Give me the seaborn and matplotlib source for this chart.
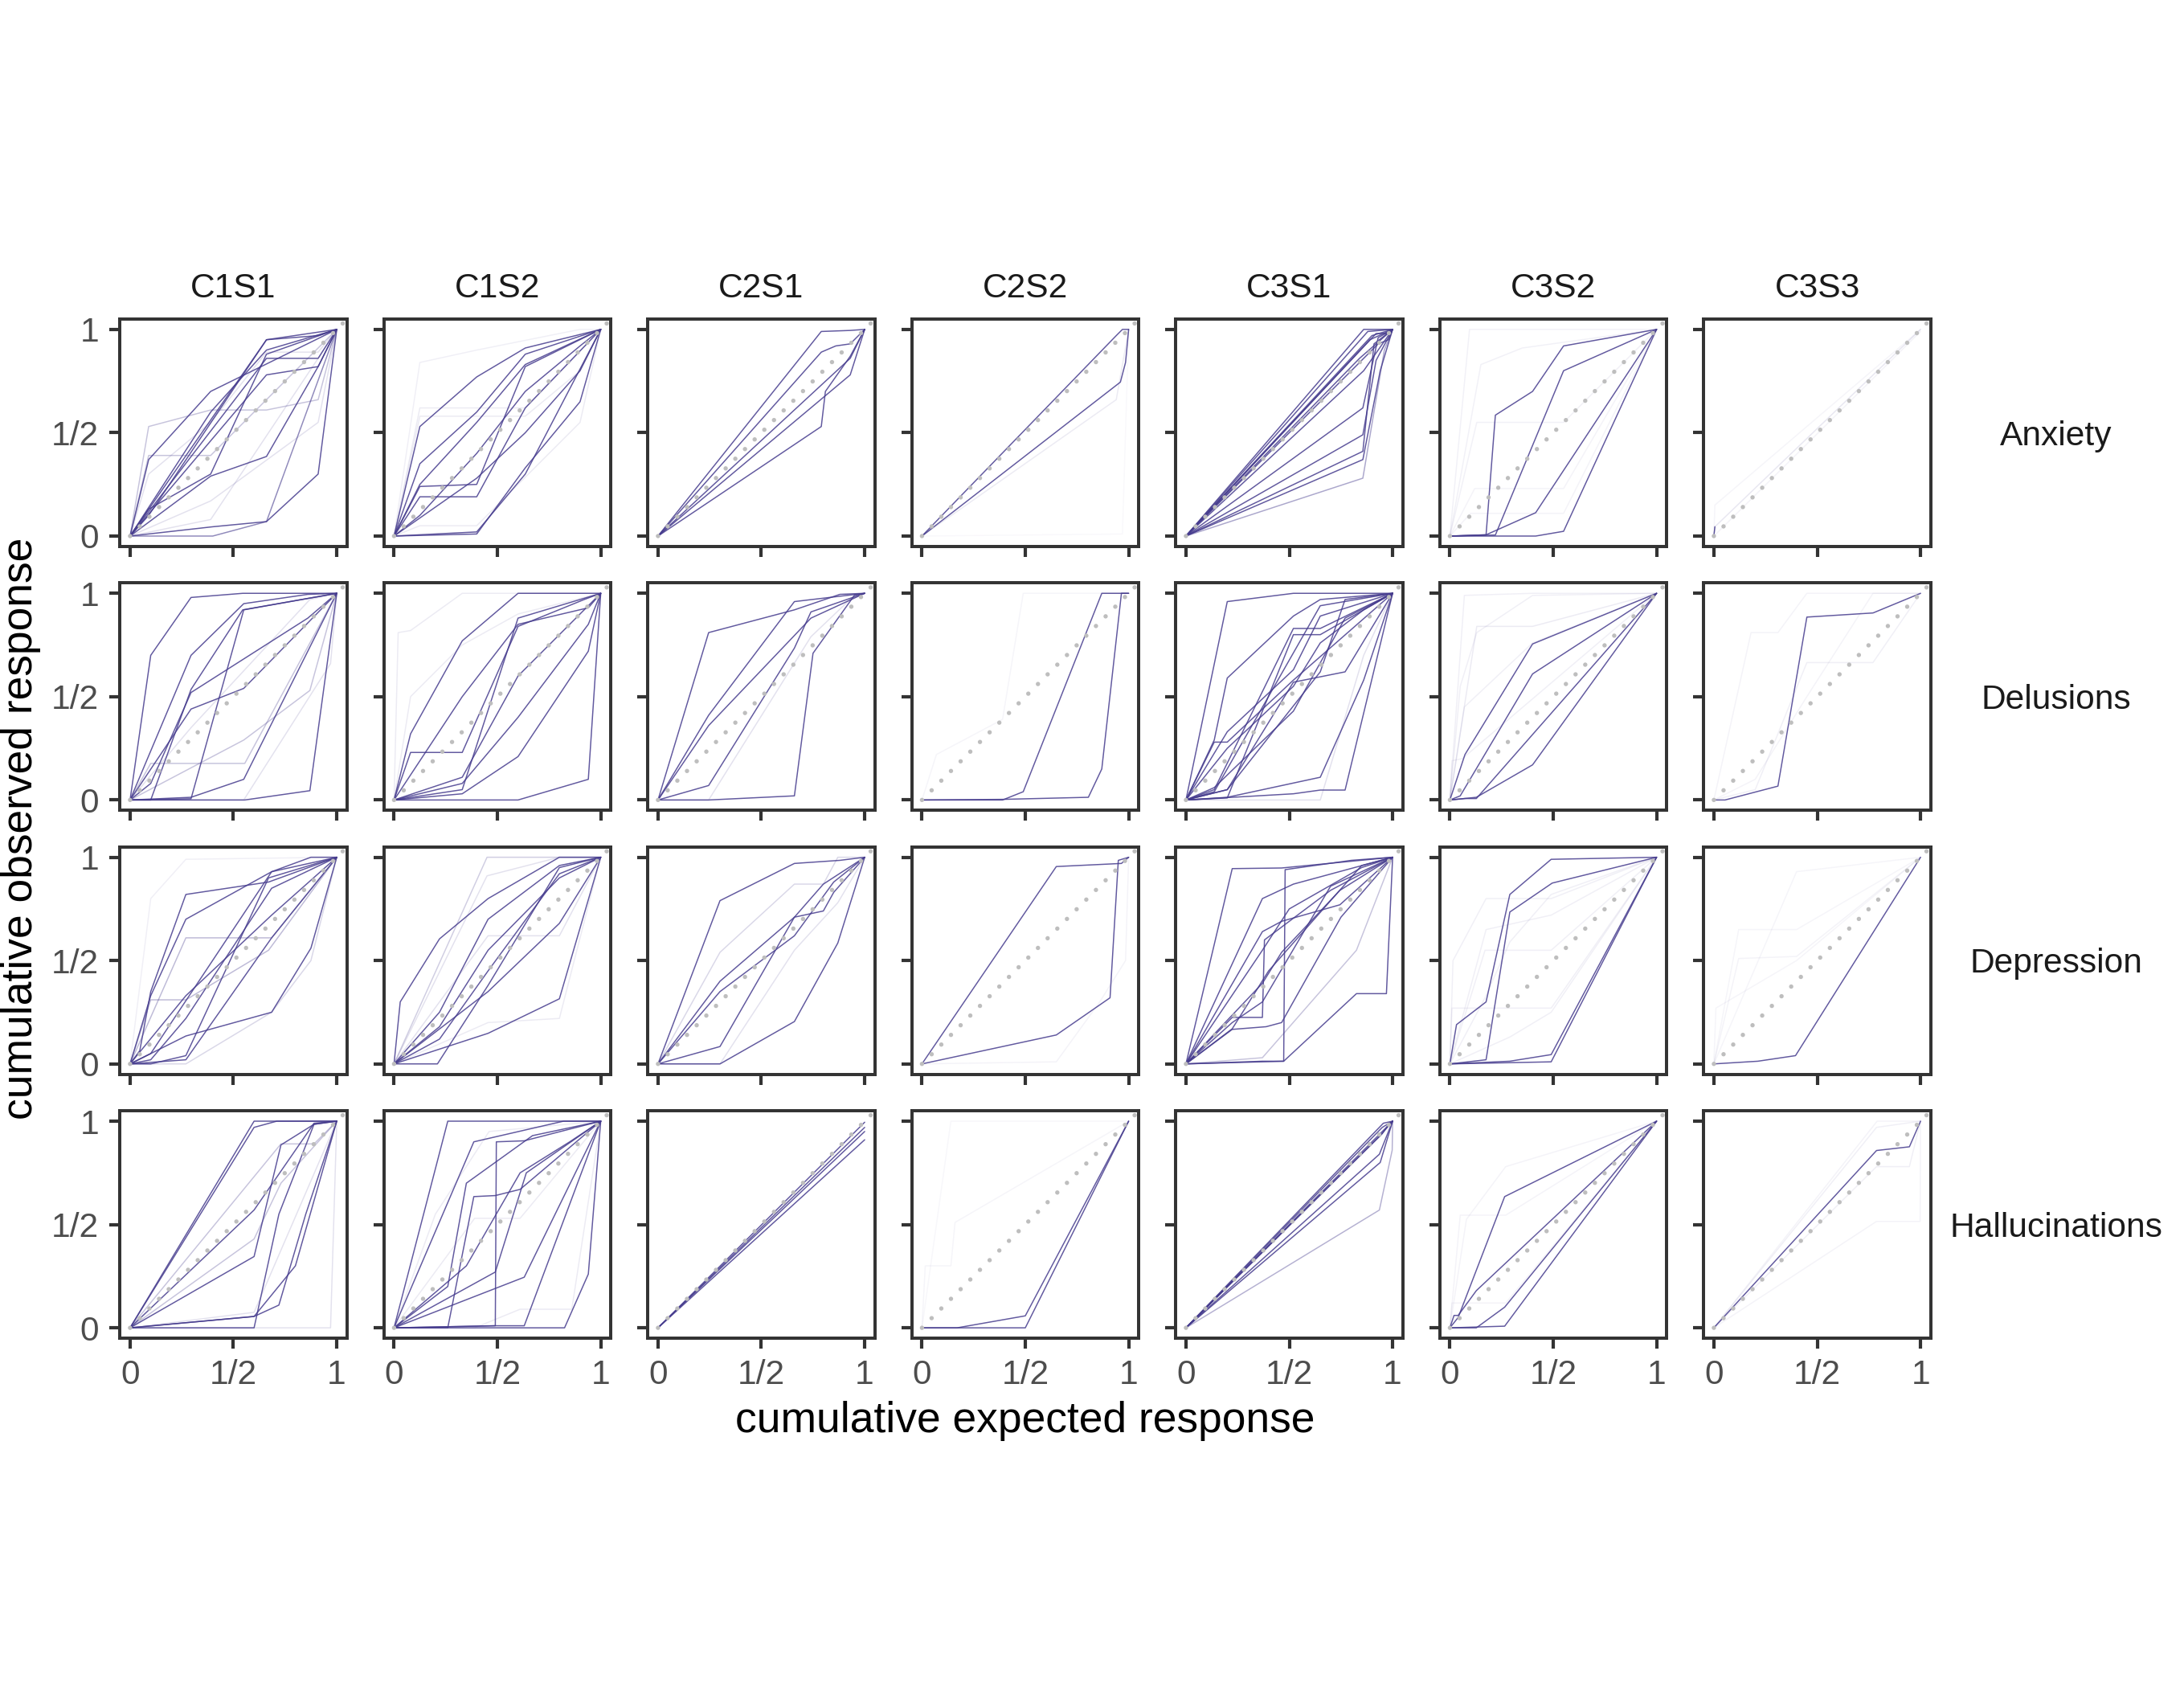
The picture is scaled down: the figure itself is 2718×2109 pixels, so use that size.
import numpy as np
import pandas as pd
import matplotlib
matplotlib.use("Agg")
import matplotlib.pyplot as plt
import seaborn as sns

# ---------------- data ----------------
symptoms = ["Anxiety", "Delusions", "Depression", "Hallucinations"]
clusters = ["C1S1", "C1S2", "C2S1", "C2S2", "C3S1", "C3S2", "C3S3"]
tick_values = [0, 0.5, 1]
tick_labels = ["0", "1/2", "1"]
x_title = "cumulative expected response"
y_title = "cumulative observed response"

# each curve: (cumulative expected, cumulative observed, weight)
anxiety_c1s1 = [
    ([0, 0.09, 0.39, 1], [0, 0.37, 0.70, 1], 0.85),
    ([0, 0.09, 0.66, 1], [0, 0.10, 0.95, 1], 0.85),
    ([0, 0.40, 0.66, 0.91, 1], [0, 0.045, 0.07, 0.30, 1], 0.85),
    ([0, 0.40, 0.66, 1], [0, 0.0, 0.07, 1], 0.6),
    ([0, 0.39, 0.66, 0.91, 1], [0, 0.29, 0.385, 0.82, 1], 0.85),
    ([0, 0.66, 0.91, 1], [0, 0.78, 0.82, 1], 0.85),
    ([0, 0.66, 0.91, 1], [0, 0.86, 0.86, 1], 0.85),
    ([0, 0.09, 0.39, 0.66, 0.91, 1], [0, 0.53, 0.61, 0.61, 0.66, 1], 0.3),
    ([0, 0.09, 0.39, 1], [0, 0.39, 0.39, 1], 0.3),
    ([0, 0.09, 0.39, 0.66, 0.91, 1], [0, 0.30, 0.55, 0.89, 0.89, 1], 0.15),
    ([0, 0.09, 0.39, 0.66, 1], [0, 0.13, 0.30, 0.88, 1], 0.85),
    ([0, 0.39, 0.91, 1], [0, 0.17, 0.55, 1], 0.15),
    ([0, 0.66, 0.91, 1], [0, 0.95, 0.97, 1], 0.85),
    ([0, 0.39, 0.66, 1], [0, 0.60, 0.90, 1], 0.85),
    ([0, 0.39, 0.91, 1], [0, 0.08, 0.86, 1], 0.15),
]
anxiety_c1s2 = [
    ([0, 0.125, 0.40, 0.635, 1], [0, 0.53, 0.77, 0.91, 1], 0.85),
    ([0, 0.125, 0.40, 0.635, 1], [0, 0.24, 0.25, 0.82, 1], 0.85),
    ([0, 0.125, 0.40, 0.635, 1], [0, 0.19, 0.19, 0.62, 1], 0.85),
    ([0, 0.40, 0.635, 1], [0, 0.02, 0.30, 1], 0.85),
    ([0, 0.40, 0.635, 0.90, 1], [0, 0.01, 0.33, 0.65, 1], 0.85),
    ([0, 0.125, 0.40, 0.635, 0.90, 1], [0, 0.10, 0.40, 0.70, 0.92, 1], 0.85),
    ([0, 0.125, 0.40, 0.635, 1], [0, 0.25, 0.55, 0.83, 1], 0.85),
    ([0, 0.125, 0.40, 0.90, 1], [0, 0.84, 0.90, 1, 1], 0.08),
    ([0, 0.125, 0.635, 1], [0, 0.62, 0.62, 1], 0.1),
    ([0, 0.125, 0.635, 0.90, 1], [0, 0.58, 0.58, 0.80, 1], 0.1),
    ([0, 0.125, 0.40, 0.90, 1], [0, 0.05, 0.05, 0.55, 1], 0.1),
    ([0, 0.40, 0.635, 0.90, 1], [0, 0.28, 0.50, 0.80, 1], 0.85),
    ([0, 0.125, 0.40, 0.635, 1], [0, 0.35, 0.60, 0.88, 1], 0.85),
]
anxiety_c2s1 = [
    ([0, 0.79, 0.93, 1], [0, 0.99, 0.995, 1], 0.85),
    ([0, 0.79, 0.81, 0.93, 1], [0, 0.53, 0.70, 0.87, 1], 0.85),
    ([0, 0.79, 0.86, 0.93, 1], [0, 0.89, 0.92, 0.93, 1], 0.85),
    ([0, 0.93, 1], [0, 0.78, 1], 0.85),
    ([0, 0.93, 1], [0, 0.86, 1], 0.85),
]
anxiety_c2s2 = [
    ([0, 0.94, 0.97, 1], [0, 0.97, 1, 1], 0.85),
    ([0, 0.96, 0.985, 1], [0, 0.745, 0.84, 1], 0.85),
    ([0, 0.94, 1], [0, 0.66, 1], 0.1),
    ([0, 0.97, 1], [0, 0.01, 1], 0.03),
]
anxiety_c3s1 = [
    ([0, 0.86, 1], [0, 1, 1], 0.85),
    ([0, 0.88, 1], [0, 0.99, 1], 0.85),
    ([0, 0.90, 1], [0, 0.97, 1], 0.85),
    ([0, 0.92, 0.97, 1], [0, 0.98, 0.98, 1], 0.85),
    ([0, 0.89, 1], [0, 0.95, 1], 0.85),
    ([0, 0.856, 0.93, 1], [0, 0.62, 0.96, 1], 0.85),
    ([0, 0.856, 0.92, 1], [0, 0.49, 0.85, 1], 0.85),
    ([0, 0.856, 0.91, 1], [0, 0.41, 0.93, 1], 0.85),
    ([0, 0.856, 0.94, 1], [0, 0.37, 0.80, 1], 0.85),
    ([0, 0.856, 0.96, 1], [0, 0.28, 0.90, 1], 0.45),
    ([0, 0.86, 1], [0, 0.80, 1], 0.85),
    ([0, 0.84, 1], [0, 0.86, 1], 0.85),
    ([0, 0.93, 0.98, 1], [0, 0.93, 0.95, 1], 0.85),
]
anxiety_c3s2 = [
    ([0, 0.175, 0.22, 0.40, 0.55, 1], [0, 0.006, 0.585, 0.70, 0.92, 1], 0.85),
    ([0, 0.175, 0.415, 1], [0, 0.006, 0.113, 1], 0.85),
    ([0, 0.415, 0.55, 1], [0, 0, 0.023, 1], 0.85),
    ([0, 0.22, 0.55, 1], [0, 0.005, 0.80, 1], 0.85),
    ([0, 0.095, 1], [0, 1, 1], 0.07),
    ([0, 0.15, 0.35, 1], [0, 0.83, 0.91, 1], 0.07),
    ([0, 0.13, 0.55, 1], [0, 0.55, 0.55, 1], 0.07),
    ([0, 0.12, 0.55, 1], [0, 0.23, 0.23, 1], 0.06),
    ([0, 0.10, 0.55, 1], [0, 0.11, 0.11, 1], 0.06),
]
anxiety_c3s3 = [
    ([0, 0.005], [0, 0.045], 0.85),
    ([0, 0.005, 1], [0, 0.045, 1], 0.12),
    ([0, 0.005, 1], [0, 0.15, 1], 0.05),
    ([0, 1], [0, 0.99], 0.06),
]

delusions_c1s1 = [
    ([0, 0.10, 0.295, 0.545, 1], [0, 0.70, 0.98, 1, 1], 0.85),
    ([0, 0.295, 0.55, 0.86, 1], [0, 0.70, 0.95, 0.995, 1], 0.85),
    ([0, 0.10, 0.295, 0.545, 1], [0, 0, 0.535, 0.92, 1], 0.85),
    ([0, 0.295, 0.55, 1], [0, 0.006, 0.92, 1], 0.85),
    ([0, 0.295, 0.55, 1], [0, 0.44, 0.54, 1], 0.85),
    ([0, 0.555, 0.87, 1], [0, 0, 0.045, 1], 0.85),
    ([0, 0.295, 0.55, 1], [0, 0.013, 0.10, 1], 0.85),
    ([0, 0.10, 0.295, 0.86, 1], [0, 0.08, 0.52, 0.88, 1], 0.85),
    ([0, 0.10, 0.555, 1], [0, 0.177, 0.177, 1], 0.3),
    ([0, 0.55, 0.87, 1], [0, 0.29, 0.53, 1], 0.3),
    ([0, 0.55, 0.97, 1], [0, 0.0, 0.66, 1], 0.15),
    ([0, 0.295, 0.87, 1], [0, 0.35, 0.97, 1], 0.15),
]
delusions_c1s2 = [
    ([0, 0.02, 0.08, 0.33, 1], [0, 0.81, 0.82, 1, 1], 0.1),
    ([0, 0.08, 0.33, 0.60, 1], [0, 0.32, 0.77, 1, 1], 0.85),
    ([0, 0.08, 0.33, 0.60, 0.92, 1], [0, 0.23, 0.23, 0.84, 0.97, 1], 0.85),
    ([0, 0.33, 0.60, 1], [0, 0.05, 0.88, 1], 0.85),
    ([0, 0.60, 0.94, 1], [0, 0, 0.10, 1], 0.85),
    ([0, 0.33, 0.60, 0.94, 1], [0, 0.03, 0.21, 0.72, 1], 0.85),
    ([0, 0.33, 0.60, 0.94, 1], [0, 0.50, 0.85, 0.93, 1], 0.85),
    ([0, 0.33, 0.60, 1], [0, 0.11, 0.60, 1], 0.85),
    ([0, 0.08, 0.33, 0.60, 1], [0, 0.50, 0.75, 0.90, 1], 0.1),
    ([0, 0.33, 0.60, 0.94, 1], [0, 0.08, 0.40, 0.85, 1], 0.85),
]
delusions_c2s1 = [
    ([0, 0.245, 0.66, 0.88, 1], [0, 0.81, 0.92, 0.995, 1], 0.85),
    ([0, 0.245, 0.66, 0.74, 1], [0, 0.07, 0.735, 0.91, 1], 0.85),
    ([0, 0.245, 0.66, 1], [0, 0.41, 0.96, 1], 0.85),
    ([0, 0.245, 0.66, 0.75, 0.95, 1], [0, 0, 0.02, 0.71, 0.99, 1], 0.85),
    ([0, 0.245, 0.74, 1], [0, 0.36, 0.88, 1], 0.85),
    ([0, 0.245, 0.74, 0.95, 1], [0, 0, 0.79, 0.99, 1], 0.15),
]
delusions_c2s2 = [
    ([0, 0.39, 0.49, 0.87, 1], [0, 0, 0.04, 1, 1], 0.85),
    ([0, 0.39, 0.805, 0.87, 0.965, 1], [0, 0.003, 0.013, 0.15, 1, 1], 0.85),
    ([0, 0.07, 0.39, 0.49, 1], [0, 0.22, 0.39, 1, 1], 0.05),
]
delusions_c3s1 = [
    ([0, 0.2, 0.52, 1], [0, 0.96, 1, 1], 0.85),
    ([0, 0.137, 0.2, 0.52, 0.65, 1], [0, 0.29, 0.59, 0.89, 0.97, 1], 0.85),
    ([0, 0.137, 0.52, 0.65, 1], [0, 0.05, 0.83, 0.83, 1], 0.85),
    ([0, 0.2, 0.52, 0.65, 1], [0, 0.01, 0.80, 0.80, 1], 0.85),
    ([0, 0.2, 0.52, 0.77, 1], [0, 0.05, 0.57, 0.62, 1], 0.85),
    ([0, 0.2, 0.65, 0.86, 1], [0, 0.013, 0.11, 0.58, 1], 0.85),
    ([0, 0.52, 0.65, 0.77, 1], [0, 0.03, 0.048, 0.048, 1], 0.85),
    ([0, 0.137, 0.2, 0.52, 1], [0, 0.28, 0.28, 0.58, 1], 0.85),
    ([0, 0.2, 0.52, 0.65, 1], [0, 0.33, 0.63, 0.89, 1], 0.85),
    ([0, 0.2, 0.65, 0.77, 1], [0, 0.05, 0.62, 0.97, 1], 0.85),
    ([0, 0.137, 0.52, 0.77, 1], [0, 0.06, 0.43, 0.88, 1], 0.85),
    ([0, 0.137, 0.65, 1], [0, 0.04, 0.94, 1], 0.85),
    ([0, 0.65, 0.86, 1], [0, 0.0, 0.70, 1], 0.15),
    ([0, 0.2, 0.52, 0.65, 0.86, 1], [0, 0.25, 0.55, 0.76, 0.92, 1], 0.85),
]
delusions_c3s2 = [
    ([0, 0.128, 0.40, 1], [0, 0.013, 0.17, 1], 0.85),
    ([0, 0.073, 0.40, 1], [0, 0.22, 0.755, 1], 0.85),
    ([0, 0.05, 0.40, 1], [0, 0.02, 0.61, 1], 0.85),
    ([0, 0.073, 0.128, 1], [0, 0.007, 0.007, 1], 0.85),
    ([0, 0.07, 0.40, 1], [0, 0.99, 1, 1], 0.08),
    ([0, 0.05, 0.13, 0.40, 1], [0, 0.55, 0.81, 0.99, 1], 0.08),
    ([0, 0.13, 0.40, 1], [0, 0.84, 0.84, 1], 0.1),
    ([0, 0.07, 0.40, 1], [0, 0.45, 0.76, 1], 0.08),
    ([0, 0.01, 0.06, 1], [0, 0.19, 0.20, 1], 0.08),
]
delusions_c3s3 = [
    ([0, 0.054, 0.31, 0.45, 0.77, 1], [0, 0, 0.067, 0.885, 0.905, 1], 0.85),
    ([0, 0.20, 0.45, 0.77, 1], [0, 0.05, 0.665, 0.665, 1], 0.08),
    ([0, 0.18, 0.31, 0.45, 1], [0, 0.81, 0.81, 1, 1], 0.06),
    ([0, 0.20, 0.45, 0.77, 1], [0, 0.10, 0.50, 1, 1], 0.06),
]

depression_c1s1 = [
    ([0, 0.047, 0.10, 0.27, 0.67, 1], [0, 0.064, 0.35, 0.82, 0.88, 1], 0.85),
    ([0, 0.10, 0.27, 0.685, 0.875, 1], [0, 0.33, 0.70, 0.93, 1, 1], 0.85),
    ([0, 0.10, 0.27, 0.67, 1], [0, 0, 0.04, 0.90, 1], 0.85),
    ([0, 0.27, 0.685, 1], [0, 0.02, 0.61, 1], 0.85),
    ([0, 0.27, 0.685, 0.875, 1], [0, 0.135, 0.25, 0.56, 1], 0.85),
    ([0, 0.10, 0.27, 0.685, 1], [0, 0.02, 0.22, 0.85, 1], 0.85),
    ([0, 0.27, 0.685, 1], [0, 0.33, 0.72, 1], 0.85),
    ([0, 0.10, 0.685, 1], [0, 0.05, 0.93, 1], 0.85),
    ([0, 0.10, 0.27, 0.67, 1], [0, 0.31, 0.31, 0.55, 1], 0.35),
    ([0, 0.27, 0.685, 1], [0, 0.61, 0.61, 1], 0.35),
    ([0, 0.27, 0.685, 0.875, 1], [0, 0.0, 0.25, 0.50, 1], 0.2),
    ([0, 0.10, 0.27, 1], [0, 0.80, 0.99, 1], 0.08),
]
depression_c1s2 = [
    ([0, 0.03, 0.22, 0.455, 0.80, 1], [0, 0.30, 0.605, 0.80, 1, 1], 0.85),
    ([0, 0.21, 0.455, 0.80, 1], [0, 0, 0.38, 0.95, 1], 0.85),
    ([0, 0.455, 0.80, 1], [0, 0.148, 0.315, 1], 0.85),
    ([0, 0.22, 0.455, 0.80, 1], [0, 0.25, 0.70, 0.96, 1], 0.85),
    ([0, 0.22, 0.455, 0.80, 1], [0, 0.18, 0.55, 0.90, 1], 0.85),
    ([0, 0.22, 0.455, 0.80, 1], [0, 0.12, 0.45, 0.92, 1], 0.85),
    ([0, 0.455, 0.80, 1], [0, 0.35, 0.68, 1], 0.85),
    ([0, 0.45, 1], [0, 1, 1], 0.25),
    ([0, 0.45, 0.80, 1], [0, 0.91, 1, 1], 0.15),
    ([0, 0.455, 0.80, 1], [0, 0.62, 0.62, 1], 0.15),
    ([0, 0.455, 0.80, 1], [0, 0.20, 0.22, 1], 0.1),
]
depression_c2s1 = [
    ([0, 0.30, 0.66, 0.88, 1], [0, 0.79, 0.97, 0.985, 1], 0.85),
    ([0, 0.30, 0.66, 0.87, 1], [0, 0, 0.205, 0.585, 1], 0.85),
    ([0, 0.30, 0.66, 0.80, 1], [0, 0.084, 0.71, 0.87, 1], 0.85),
    ([0, 0.30, 0.66, 0.80, 0.85, 1], [0, 0.40, 0.71, 0.74, 0.83, 1], 0.85),
    ([0, 0.30, 0.66, 0.85, 1], [0, 0.35, 0.62, 0.88, 1], 0.85),
    ([0, 0.30, 0.66, 0.80, 0.87, 1], [0, 0.54, 0.87, 0.87, 1, 1], 0.2),
    ([0, 0.30, 0.66, 0.87, 1], [0, 0.0, 0.55, 0.78, 1], 0.15),
]
depression_c2s2 = [
    ([0, 0.65, 0.965, 1], [0, 0.955, 0.97, 1], 0.85),
    ([0, 0.65, 0.91, 0.95, 1], [0, 0.14, 0.32, 0.985, 1], 0.85),
    ([0, 0.65, 0.86, 0.985, 1], [0, 0.01, 0.30, 0.50, 1], 0.06),
]
depression_c3s1 = [
    ([0, 0.224, 0.463, 1], [0, 0.945, 0.948, 1], 0.85),
    ([0, 0.473, 0.48, 0.80, 1], [0, 0.013, 0.94, 0.985, 1], 0.85),
    ([0, 0.37, 0.473, 0.825, 0.97, 1], [0, 0.013, 0.013, 0.34, 0.34, 1], 0.85),
    ([0, 0.224, 0.37, 0.38, 0.70, 1], [0, 0.225, 0.225, 0.60, 0.84, 1], 0.85),
    ([0, 0.224, 0.388, 0.463, 0.75, 1], [0, 0.167, 0.18, 0.20, 0.71, 1], 0.85),
    ([0, 0.37, 0.52, 1], [0, 0.80, 0.87, 1], 0.85),
    ([0, 0.37, 0.463, 0.745, 1], [0, 0.64, 0.69, 0.77, 1], 0.85),
    ([0, 0.37, 0.463, 0.745, 1], [0, 0.39, 0.54, 0.84, 1], 0.85),
    ([0, 0.224, 0.37, 0.70, 1], [0, 0.20, 0.30, 0.86, 1], 0.85),
    ([0, 0.37, 0.50, 0.85, 1], [0, 0.55, 0.75, 0.95, 1], 0.85),
    ([0, 0.224, 0.40, 0.85, 1], [0, 0.17, 0.45, 0.96, 1], 0.85),
    ([0, 0.37, 0.825, 1], [0, 0.03, 0.55, 1], 0.3),
]
depression_c3s2 = [
    ([0, 0.032, 0.175, 0.29, 0.49, 1], [0, 0.19, 0.30, 0.82, 0.99, 1], 0.85),
    ([0, 0.175, 0.29, 0.495, 1], [0, 0.02, 0.735, 0.875, 1], 0.85),
    ([0, 0.49, 1], [0, 0.01, 1], 0.85),
    ([0, 0.29, 0.49, 1], [0, 0.013, 0.045, 1], 0.85),
    ([0, 0.015, 0.175, 0.49, 1], [0, 0.50, 0.80, 0.80, 1], 0.08),
    ([0, 0.175, 0.49, 1], [0, 0.65, 0.72, 1], 0.08),
    ([0, 0.17, 0.29, 0.49, 1], [0, 0.32, 0.59, 0.82, 1], 0.08),
    ([0, 0.01, 0.49, 1], [0, 0.27, 0.27, 1], 0.08),
    ([0, 0.17, 0.49, 1], [0, 0.55, 0.55, 1], 0.08),
    ([0, 0.29, 0.49, 1], [0, 0.13, 0.25, 1], 0.08),
]
depression_c3s3 = [
    ([0, 0.213, 0.395, 1], [0, 0.013, 0.04, 1], 0.85),
    ([0, 0.12, 0.40, 1], [0, 0.51, 0.52, 1], 0.06),
    ([0, 0.12, 0.40, 1], [0, 0.65, 0.65, 1], 0.05),
    ([0, 0.40, 1], [0, 0.93, 1], 0.05),
    ([0, 0.01, 0.40, 1], [0, 0.27, 0.50, 1], 0.05),
]

hallucinations_c1s1 = [
    ([0, 0.60, 1], [0, 1, 1], 0.85),
    ([0, 0.60, 0.71, 1], [0, 0.97, 1, 1], 0.85),
    ([0, 0.60, 0.73, 0.89, 1], [0, 0.345, 0.885, 0.985, 1], 0.85),
    ([0, 0.60, 0.72, 0.85, 1], [0, 0.055, 0.11, 0.55, 1], 0.85),
    ([0, 0.60, 0.72, 0.89, 1], [0, 0, 0.55, 0.985, 1], 0.85),
    ([0, 0.60, 0.80, 1], [0, 0.055, 0.30, 1], 0.85),
    ([0, 0.60, 0.89, 1], [0, 0.57, 0.99, 1], 0.85),
    ([0, 0.60, 0.73, 1], [0, 0.43, 0.70, 1], 0.3),
    ([0, 0.60, 1], [0, 0.075, 1], 0.15),
    ([0, 0.60, 0.97, 1], [0, 0, 0, 1], 0.15),
    ([0, 0.73, 0.89, 1], [0, 0.89, 0.89, 1], 0.3),
]
hallucinations_c1s2 = [
    ([0, 0.26, 1], [0, 1, 1], 0.85),
    ([0, 0.26, 0.386, 0.49, 0.61, 1], [0, 0, 0.635, 0.64, 0.67, 1], 0.85),
    ([0, 0.386, 0.82, 1], [0, 0.90, 1, 1], 0.85),
    ([0, 0.49, 0.495, 0.63, 1], [0, 0.01, 0.90, 0.905, 1], 0.85),
    ([0, 0.49, 0.63, 1], [0, 0.01, 0.01, 1], 0.85),
    ([0, 0.26, 0.35, 0.67, 1], [0, 0.20, 0.70, 0.93, 1], 0.85),
    ([0, 0.63, 1], [0, 0.245, 1], 0.85),
    ([0, 0.49, 0.64, 1], [0, 0.27, 0.75, 1], 0.85),
    ([0, 0.35, 0.61, 0.85, 1], [0, 0.30, 0.75, 0.90, 1], 0.85),
    ([0, 0.825, 0.94, 1], [0, 0, 0.26, 1], 0.85),
    ([0, 0.39, 0.61, 1], [0, 0.53, 0.53, 1], 0.1),
    ([0, 0.39, 0.61, 0.86, 1], [0, 0.0, 0.09, 0.09, 1], 0.1),
    ([0, 0.20, 0.46, 1], [0, 0.55, 0.95, 1], 0.1),
]
hallucinations_c2s1 = [
    ([0, 1], [0, 0.995], 0.85),
    ([0, 1], [0, 0.97], 0.85),
    ([0, 1], [0, 0.95], 0.85),
    ([0, 1], [0, 0.91], 0.85),
]
hallucinations_c2s2 = [
    ([0, 0.17, 0.50, 1], [0, 0, 0.058, 1], 0.85),
    ([0, 0.50, 1], [0, 0, 1], 0.85),
    ([0, 0.016, 0.14, 0.16, 1], [0, 0.30, 0.30, 0.51, 1], 0.05),
    ([0, 0.14, 1], [0, 1, 1], 0.04),
]
hallucinations_c3s1 = [
    ([0, 0.955, 1], [0, 0.99, 1], 0.85),
    ([0, 0.95, 1], [0, 0.97, 1], 0.85),
    ([0, 0.96, 1], [0, 0.96, 1], 0.85),
    ([0, 0.95, 0.985, 1], [0, 0.94, 0.99, 1], 0.85),
    ([0, 0.94, 1], [0, 0.93, 1], 0.85),
    ([0, 0.936, 1], [0, 0.84, 1], 0.85),
    ([0, 0.94, 1], [0, 0.80, 1], 0.85),
    ([0, 0.936, 0.998, 1], [0, 0.57, 0.86, 1], 0.4),
]
hallucinations_c3s2 = [
    ([0, 0.04, 0.265, 1], [0, 0.05, 0.635, 1], 0.85),
    ([0, 0.128, 0.265, 1], [0, 0, 0.10, 1], 0.85),
    ([0, 0.265, 1], [0, 0.008, 1], 0.85),
    ([0, 0.02, 0.04, 0.128, 1], [0, 0.06, 0.06, 0.18, 1], 0.85),
    ([0, 0.08, 0.27, 1], [0, 0.525, 0.78, 1], 0.06),
    ([0, 0.05, 0.27, 1], [0, 0.545, 0.545, 1], 0.06),
    ([0, 0.01, 0.27, 1], [0, 0.12, 0.12, 1], 0.06),
]
hallucinations_c3s3 = [
    ([0, 0.787, 0.946, 1], [0, 0.858, 0.876, 1], 0.85),
    ([0, 0.787, 1], [0, 0.97, 1], 0.08),
    ([0, 0.79, 1], [0, 1, 1], 0.06),
    ([0, 0.787, 0.998, 1], [0, 0.515, 0.515, 1], 0.06),
    ([0, 0.787, 0.946, 1], [0, 0.78, 0.78, 1], 0.08),
]

panel_curves = {
    ("Anxiety", "C1S1"): anxiety_c1s1, ("Anxiety", "C1S2"): anxiety_c1s2,
    ("Anxiety", "C2S1"): anxiety_c2s1, ("Anxiety", "C2S2"): anxiety_c2s2,
    ("Anxiety", "C3S1"): anxiety_c3s1, ("Anxiety", "C3S2"): anxiety_c3s2,
    ("Anxiety", "C3S3"): anxiety_c3s3,
    ("Delusions", "C1S1"): delusions_c1s1, ("Delusions", "C1S2"): delusions_c1s2,
    ("Delusions", "C2S1"): delusions_c2s1, ("Delusions", "C2S2"): delusions_c2s2,
    ("Delusions", "C3S1"): delusions_c3s1, ("Delusions", "C3S2"): delusions_c3s2,
    ("Delusions", "C3S3"): delusions_c3s3,
    ("Depression", "C1S1"): depression_c1s1, ("Depression", "C1S2"): depression_c1s2,
    ("Depression", "C2S1"): depression_c2s1, ("Depression", "C2S2"): depression_c2s2,
    ("Depression", "C3S1"): depression_c3s1, ("Depression", "C3S2"): depression_c3s2,
    ("Depression", "C3S3"): depression_c3s3,
    ("Hallucinations", "C1S1"): hallucinations_c1s1, ("Hallucinations", "C1S2"): hallucinations_c1s2,
    ("Hallucinations", "C2S1"): hallucinations_c2s1, ("Hallucinations", "C2S2"): hallucinations_c2s2,
    ("Hallucinations", "C3S1"): hallucinations_c3s1, ("Hallucinations", "C3S2"): hallucinations_c3s2,
    ("Hallucinations", "C3S3"): hallucinations_c3s3,
}
identity_line = [0, 1.05]

# ---------------- style ----------------
sns.set_style("white")
plt.rcParams["font.family"] = ["Liberation Sans", "DejaVu Sans"]

LINE_COLOR = "#463C8E"
FRAME = "#333333"
W, H = 2718, 2109
fig, axes = plt.subplots(4, 7, figsize=(W / 300, H / 300), dpi=300)
fig.subplots_adjust(left=149 / W, right=2403 / W, top=1 - 397 / H,
                    bottom=1 - 1665 / H, wspace=0.161, hspace=0.161)

for i, sym in enumerate(symptoms):
    for j, cl in enumerate(clusters):
        ax = axes[i, j]
        for xs, ys, w in panel_curves[(sym, cl)]:
            d = pd.DataFrame({"expected": xs, "observed": ys})
            sns.lineplot(data=d, x="expected", y="observed", sort=False,
                         estimator=None, color=LINE_COLOR, alpha=w,
                         lw=0.36, ax=ax)
        ax.plot(identity_line, identity_line, color="#BEBEBE", lw=1.3,
                linestyle=(0, (0.01, 3.13)), dash_capstyle="round", zorder=5)
        ax.set_xlim(-0.05, 1.05)
        ax.set_ylim(-0.05, 1.05)
        ax.set_xticks(tick_values)
        ax.set_yticks(tick_values)
        ax.set_xticklabels(tick_labels if i == len(symptoms) - 1 else [])
        ax.set_yticklabels(tick_labels if j == 0 else [])
        ax.set_xlabel("")
        ax.set_ylabel("")
        ax.tick_params(axis="both", which="major", direction="out",
                       length=3.2, width=1.0, color=FRAME, pad=3,
                       labelsize=10.2, labelcolor="#4D4D4D",
                       bottom=True, left=True)
        for sp in ax.spines.values():
            sp.set_color(FRAME)
            sp.set_linewidth(0.95)
        if i == 0:
            ax.set_title(cl, fontsize=10.2, color="#1A1A1A", pad=6.6)
        if j == len(clusters) - 1:
            ax.text(1.551, 0.485, sym, transform=ax.transAxes, ha="center",
                    va="center", fontsize=10.2, color="#1A1A1A")

fig.text(1276 / W, 1 - 1768 / H, x_title, ha="center", va="center",
         fontsize=12.8, color="black")
fig.text(26 / W, 1 - 1031 / H, y_title, ha="center", va="center",
         rotation=90, fontsize=12.8, color="black")

fig.savefig("out.png", dpi=300, facecolor="white")
